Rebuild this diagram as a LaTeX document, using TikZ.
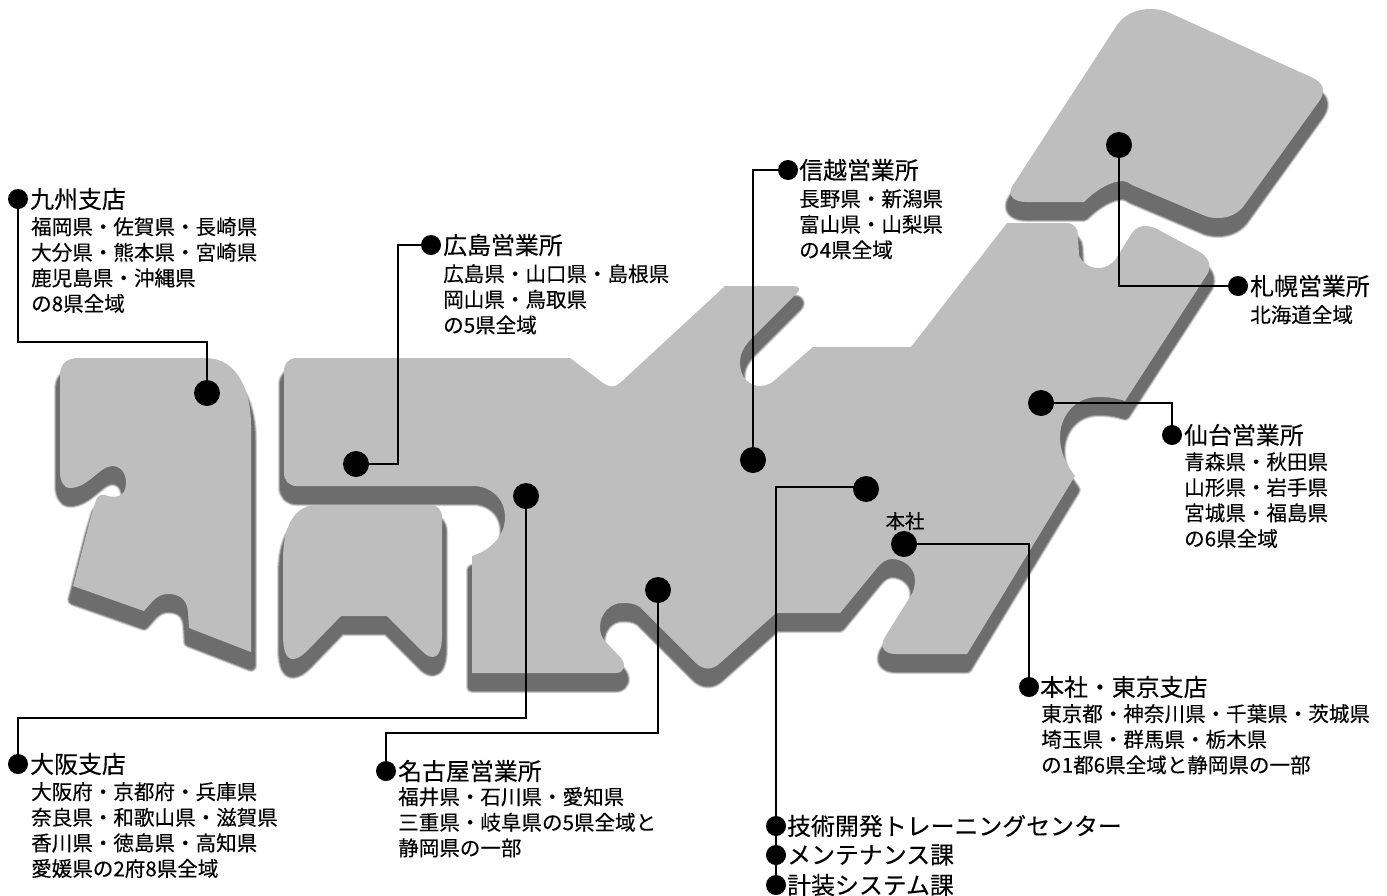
\documentclass[tikz,border=0pt]{standalone}
\usepackage{fontspec}
\setmainfont{Noto Sans CJK JP}[FakeBold=0.25]
\newcommand\pKyushu{(78,358) -- (205,358) .. controls (240,358) and (251,395) .. (251,425) -- (251,652) -- (189,628) -- (188,612) .. controls (187,598) and (178,594) .. (168,594) .. controls (157,594) and (152,602) .. (144,611) -- (73,586) -- (90,520) -- (96,500) .. controls (98,494) and (103,494) .. (108,496) .. controls (115,498) and (126,497) .. (126,483) .. controls (126,472) and (120,466) .. (112,466) .. controls (100,466) and (88,488) .. (70,488) .. controls (63,488) and (60,480) .. (60,472) -- (60,375) .. controls (60,364) and (67,358) .. (78,358) -- cycle}
\newcommand\pShikoku{(317,505) -- (430,505) .. controls (438,505) and (442,510) .. (442,518) -- (442,635) .. controls (442,650) and (438,657) .. (433,657) .. controls (428,657) and (425,654) .. (422,651) -- (387,616) -- (341,616) -- (307,651) .. controls (302,656) and (297,659) .. (293,659) .. controls (286,659) and (283,650) .. (283,635) -- (283,560) .. controls (283,525) and (295,505) .. (317,505) -- cycle}
\newcommand\pHonshu{(297,358) -- (570,358) -- (603,383) .. controls (608,387) and (615,388) .. (620,383) -- (725,286) -- (793,286) .. controls (799,286) and (801,289) .. (797,293) -- (753,337) .. controls (743,347) and (740,354) .. (740,363) .. controls (740,378) and (750,386) .. (760,386) .. controls (767,386) and (772,383) .. (776,379) -- (813,347) -- (911,347) -- (1007,223) -- (1066,223) .. controls (1074,223) and (1078,228) .. (1078,235) -- (1079,255) .. controls (1082,263) and (1090,268) .. (1098,268) .. controls (1106,268) and (1113,264) .. (1117,257) -- (1132,233) .. controls (1136,228) and (1140,226) .. (1145,226) .. controls (1148,226) and (1152,227) .. (1155,228) -- (1198,251) .. controls (1208,256) and (1212,265) .. (1208,273) -- (1125,401) .. controls (1116,398) and (1108,397) .. (1098,397) .. controls (1075,397) and (1060,416) .. (1060,437) .. controls (1060,452) and (1066,464) .. (1075,476) -- (967,654) -- (896,654) .. controls (884,654) and (879,647) .. (885,637) -- (910,597) .. controls (914,591) and (915,586) .. (915,580) .. controls (915,568) and (904,559) .. (892,559) .. controls (886,559) and (881,563) .. (877,568) -- (840,613) -- (776,613) -- (719,664) .. controls (712,670) and (704,670) .. (697,664) -- (640,607) .. controls (634,603) and (628,603) .. (622,603) .. controls (610,603) and (600,614) .. (600,627) .. controls (600,632) and (601,636) .. (604,640) -- (621,658) .. controls (626,664) and (625,673) .. (616,673) -- (472,673) -- (472,556) .. controls (488,551) and (505,538) .. (505,517) .. controls (505,498) and (490,486) .. (473,486) -- (297,486) .. controls (289,486) and (284,481) .. (284,473) -- (284,371) .. controls (284,363) and (289,358) .. (297,358) -- cycle}
\newcommand\pHokkaido{(1150,9) .. controls (1157,9) and (1164,10) .. (1170,13) -- (1313,78) .. controls (1323,83) and (1326,90) .. (1320,100) -- (1243,207) .. controls (1236,215) and (1227,218) .. (1218,218) .. controls (1212,218) and (1207,217) .. (1203,215) -- (1132,185) .. controls (1129,183) and (1126,181) .. (1123,181) .. controls (1110,181) and (1095,191) .. (1084,202) -- (1026,202) .. controls (1012,202) and (1007,194) .. (1013,185) -- (1117,25) .. controls (1124,15) and (1136,9) .. (1150,9) -- cycle}
\newcommand\allshapes[1]{\draw[#1] \pKyushu; \draw[#1] \pShikoku; \draw[#1] \pHonshu; \draw[#1] \pHokkaido;}
\newcommand\ftitle{\fontsize{23.9}{28}\selectfont}
\newcommand\fbody{\fontsize{20.55}{25.6}\selectfont}
\tikzset{
  x=1pt,y=-1pt,
  shad/.style={shift={(0,14)},line join=round},
  mapfill/.style={fill=mapgray,draw=none},
  bigdot/.style={circle,fill=black,inner sep=0pt,minimum size=26pt},
  smalldot/.style={circle,fill=black,inner sep=0pt,minimum size=20pt},
  conn/.style={draw=black,line width=1.5pt,line join=miter},
  titletext/.style={anchor=west,inner sep=0pt,font=\ftitle,text=black},
  bodytext/.style={anchor=north west,inner sep=0pt,align=left,font=\fbody,text=black},
  small/.style={inner sep=0pt,font=\fontsize{19.5}{22}\selectfont,text=black},
}
\definecolor{mapgray}{HTML}{BEBEBE}
\definecolor{shadgray}{HTML}{6D6D6E}
\definecolor{shadmid}{HTML}{9A9A9B}
\definecolor{shadlight}{HTML}{D4D4D6}
\begin{document}
\begin{tikzpicture}
\useasboundingbox (0,0) rectangle (1387,895);
% shadows with a soft rim
\allshapes{shad,draw=shadlight,fill=shadlight,line width=12pt}
\allshapes{shad,draw=shadmid,fill=shadmid,line width=10pt}
\allshapes{shad,draw=shadgray,fill=shadgray,line width=8pt}
\allshapes{mapfill}
% dots on the map
\node[bigdot] (dk) at (207,393) {};
\node[bigdot] (dh) at (356,464) {};
\node[bigdot] (do) at (526,496) {};
\node[bigdot] (dn) at (658,590) {};
\node[bigdot] (ds) at (753,460) {};
\node[bigdot] (dg) at (866,489) {};
\node[bigdot] (dt) at (904,544) {};
\node[bigdot] (dv) at (1041,403) {};
\node[bigdot] (dp) at (1119,145) {};
% label dots
\node[smalldot] (lk) at (18,199) {};
\node[smalldot] (lh) at (431,245) {};
\node[smalldot] (ls) at (788,170) {};
\node[smalldot] (lp) at (1238,286) {};
\node[smalldot] (lv) at (1172,435) {};
\node[smalldot] (lt) at (1029,687) {};
\node[smalldot] (lo) at (18,764) {};
\node[smalldot] (ln) at (386,771) {};
\node[smalldot] (lg1) at (776,826) {};
\node[smalldot] (lg2) at (776,855) {};
\node[smalldot] (lg3) at (776,885) {};
% bends
\coordinate (bk) at (18,342);
\coordinate (bk2) at (207,342);
\coordinate (bh) at (398,464);
\coordinate (bh2) at (398,245);
\coordinate (bo) at (526,718);
\coordinate (bo2) at (18,718);
\coordinate (bn) at (658,733);
\coordinate (bn2) at (386,733);
\coordinate (bg) at (866,487);
\coordinate (bg2) at (776,487);
% connectors
\draw[conn] (lk.center) -- (bk) -- (bk2) -- (dk.center);
\draw[conn] (dh.center) -- (bh) -- (bh2) -- (lh.center);
\draw[conn] (ds.center) |- (ls.center);
\draw[conn] (dp.center) |- (lp.center);
\draw[conn] (dv.center) -| (lv.center);
\draw[conn] (dt.center) -| (lt.center);
\draw[conn] (do.center) -- (bo) -- (bo2) -- (lo.center);
\draw[conn] (dn.center) -- (bn) -- (bn2) -- (ln.center);
\draw[conn] (dg.center) -- (bg) -- (bg2) -- (lg3.center);
% labels
\node[titletext] (tk) at (30,199) {九州支店};
\node[bodytext] (bdk) at (31,217) {福岡県・佐賀県・長崎県\\大分県・熊本県・宮崎県\\鹿児島県・沖縄県\\の8県全域};
\node[titletext] (th) at (443,245) {広島営業所};
\node[bodytext] (bdh) at (443,264) {広島県・山口県・島根県\\岡山県・鳥取県\\の5県全域};
\node[titletext] (ts) at (799,170) {信越営業所};
\node[bodytext] (bds) at (799,189) {長野県・新潟県\\富山県・山梨県\\の4県全域};
\node[titletext] (tp) at (1250,286) {札幌営業所};
\node[bodytext] (bdp) at (1250,305) {北海道全域};
\node[titletext] (tv) at (1184,435) {仙台営業所};
\node[bodytext] (bdv) at (1184,452) {青森県・秋田県\\山形県・岩手県\\宮城県・福島県\\の6県全域};
\node[titletext] (tt) at (1040,687) {本社・東京支店};
\node[bodytext] (bdt) at (1041,704) {東京都・神奈川県・千葉県・茨城県\\埼玉県・群馬県・栃木県\\の1都6県全域と静岡県の一部};
\node[titletext] (to) at (30,764) {大阪支店};
\node[bodytext] (bdo) at (31,782) {大阪府・京都府・兵庫県\\奈良県・和歌山県・滋賀県\\香川県・徳島県・高知県\\愛媛県の2府8県全域};
\node[titletext] (tn) at (398,771) {名古屋営業所};
\node[bodytext] (bdn) at (398,787) {福井県・石川県・愛知県\\三重県・岐阜県の5県全域と\\静岡県の一部};
\node[titletext] (tg1) at (787,826) {技術開発トレーニングセンター};
\node[titletext] (tg2) at (787,855) {メンテナンス課};
\node[titletext] (tg3) at (787,885) {計装システム課};
\node[small] (hq) at (905,521) {本社};
\end{tikzpicture}
\end{document}
